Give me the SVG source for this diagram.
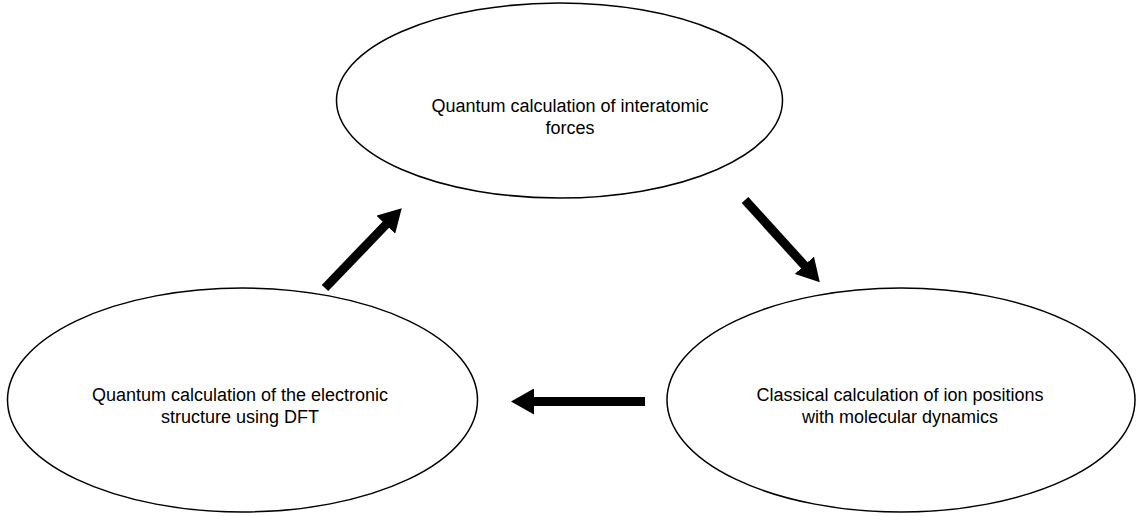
<svg xmlns="http://www.w3.org/2000/svg" width="1138" height="516" viewBox="0 0 1138 516">
<style>
.node{fill:#fff;stroke:#000;stroke-width:1.5}
.lbl{font-family:"Liberation Sans",Arial,sans-serif;font-size:18px;fill:#000;text-anchor:middle}
.conn{stroke:#000;stroke-width:9;fill:none;marker-end:url(#head)}
</style>
<defs>
<marker id="head" markerUnits="userSpaceOnUse" markerWidth="24" markerHeight="26" refX="1" refY="13" orient="auto">
<path d="M0,0 L23,13 L0,26 Z" fill="#000"/>
</marker>
</defs>
<rect width="1138" height="516" fill="#fff"/>
<g id="node-forces">
<ellipse class="node" cx="559.5" cy="100.5" rx="223" ry="97.5"/>
<text class="lbl" x="570" y="112">Quantum calculation of interatomic</text>
<text class="lbl" x="570" y="134">forces</text>
</g>
<g id="node-md">
<ellipse class="node" cx="901" cy="400" rx="234" ry="112"/>
<text class="lbl" x="900" y="401">Classical calculation of ion positions</text>
<text class="lbl" x="900" y="423">with molecular dynamics</text>
</g>
<g id="node-dft">
<ellipse class="node" cx="242.5" cy="400" rx="235" ry="112"/>
<text class="lbl" x="240" y="401">Quantum calculation of the electronic</text>
<text class="lbl" x="240" y="423">structure using DFT</text>
</g>
<g id="connectors">
<line class="conn" x1="325" y1="288" x2="386.5" y2="224"/>
<line class="conn" x1="745" y1="200" x2="805" y2="266"/>
<line class="conn" x1="645" y1="401.5" x2="533" y2="401.5"/>
</g>
</svg>
